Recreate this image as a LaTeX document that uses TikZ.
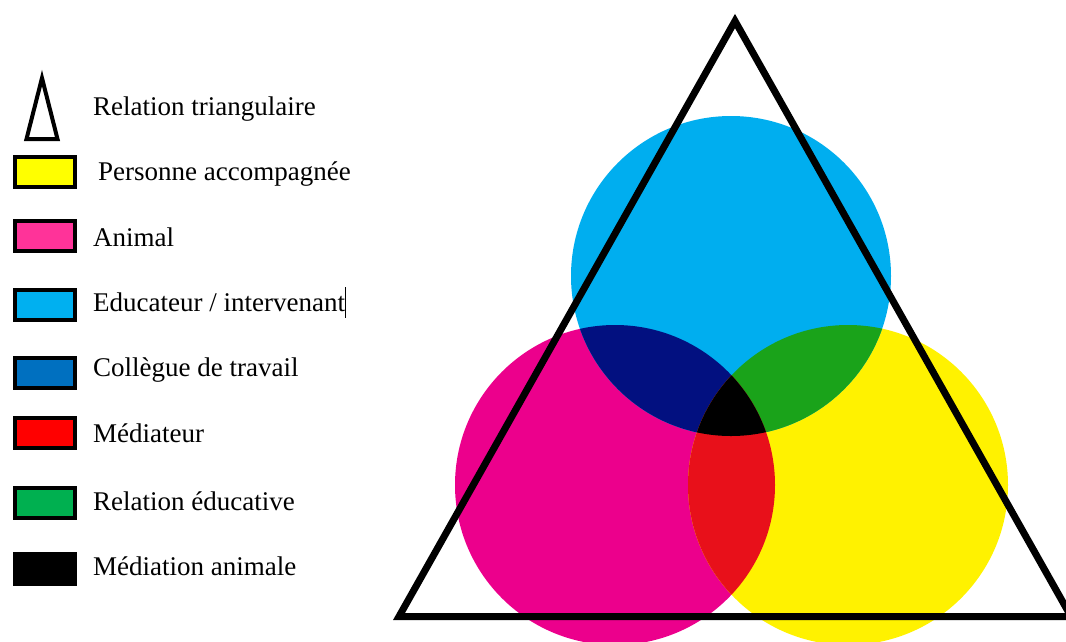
\documentclass[tikz,border=0pt]{standalone}
\usepackage{fontspec}
\setmainfont{Liberation Serif}
\definecolor{kYellow}{HTML}{FFFF00}
\definecolor{kMagenta}{HTML}{FF3399}
\definecolor{kCyan}{HTML}{00B0F0}
\definecolor{kBlue}{HTML}{0070C0}
\definecolor{kRed}{HTML}{FF0000}
\definecolor{kGreen}{HTML}{00B050}
\definecolor{cCyan}{HTML}{00AEEF}
\definecolor{cMagenta}{HTML}{EC008C}
\definecolor{cYellow}{HTML}{FFF200}
\definecolor{cNavy}{HTML}{021080}
\definecolor{cGreen}{HTML}{1AA31A}
\definecolor{cRed}{HTML}{E8101A}
\begin{document}
\begin{tikzpicture}[x=1pt,y=-1pt,
  lbl/.style={anchor=base west,inner sep=0pt,font=\fontsize{27}{30}\selectfont},
  keybox/.style={draw=black,line width=4pt,minimum width=60.5pt,minimum height=30pt,inner sep=0pt},
  disc/.style={radius=160pt},
  outline/.style={draw=black,line join=miter,fill=none}
]
\path[use as bounding box] (0,0) rectangle (1066,641);

% ---------- Legend ----------
\draw[outline,line width=4pt] (42,78) -- (26.5,139) -- (57.5,139) -- cycle;
\node[lbl] (tTri) at (93,115) {Relation triangulaire};

\node[keybox,fill=kYellow]  (bY) at (44.75,172) {};
\node[lbl] (tY) at (98,180.5) {Personne accompagnée};

\node[keybox,fill=kMagenta] (bM) at (44.75,235.5) {};
\node[lbl] (tM) at (93,246) {Animal};

\node[keybox,fill=kCyan]    (bC) at (44.75,305) {};
\node[lbl] (tC) at (93,311) {Educateur / intervenant};
\coordinate (curTop) at (345.5,287);
\coordinate (curBot) at (345.5,318);
\draw[line width=1.5pt] (curTop) -- (curBot);

\node[keybox,fill=kBlue]    (bB) at (44.75,373) {};
\node[lbl] (tB) at (93,376) {Collègue de travail};

\node[keybox,fill=kRed]     (bR) at (44.75,432.5) {};
\node[lbl] (tR) at (93,442) {Médiateur};

\node[keybox,fill=kGreen]   (bG) at (44.75,503) {};
\node[lbl] (tG) at (93,510) {Relation éducative};

\node[keybox,fill=black]    (bK) at (44.75,569) {};
\node[lbl] (tK) at (93,575) {Médiation animale};

% ---------- Circles ----------
\coordinate (C) at (731,276);
\coordinate (M) at (615,485);
\coordinate (Y) at (848,485);

\fill[cMagenta] (M) circle[disc];
\fill[cYellow]  (Y) circle[disc];
\fill[cCyan]    (C) circle[disc];

\begin{scope}
  \clip (C) circle[disc];
  \fill[cNavy] (M) circle[disc];
  \fill[cGreen] (Y) circle[disc];
\end{scope}
\begin{scope}
  \clip (M) circle[disc];
  \fill[cRed] (Y) circle[disc];
  \clip (Y) circle[disc];
  \fill[black] (C) circle[disc];
\end{scope}

% ---------- Triangle ----------
\coordinate (A) at (735,21);
\coordinate (L) at (399,616.5);
\coordinate (R) at (1071,616.5);
\draw[outline,line width=7pt] (A) -- (L) -- (R) -- cycle;
\end{tikzpicture}
\end{document}
